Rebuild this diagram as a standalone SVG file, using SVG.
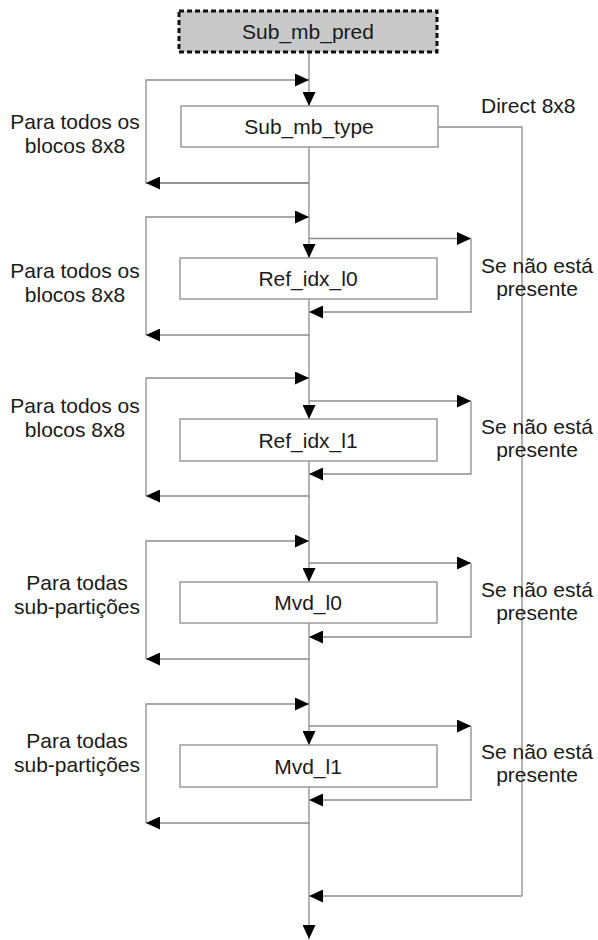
<svg xmlns="http://www.w3.org/2000/svg" width="598" height="940" viewBox="0 0 598 940">
<defs>
<marker id="ah" viewBox="0 0 14 13" refX="14" refY="6.5" markerWidth="14" markerHeight="13" markerUnits="userSpaceOnUse" orient="auto">
<path d="M0,0 L14,6.5 L0,13 z" fill="#000"/>
</marker>
<style>
.ln{fill:none;stroke:#8c8c8c;stroke-width:1.3}
.ar{marker-end:url(#ah)}
.box{fill:#fff;stroke:#8c8c8c;stroke-width:1.3}
.t{font-family:"Liberation Sans",Arial,sans-serif;font-size:21px;fill:#1a1a1a}
.c{text-anchor:middle}
</style>
</defs>
<rect width="598" height="940" fill="#fff"/>
<g id="connectors">
<path class="ln ar" d="M309,52 V106"/>
<path class="ln ar" d="M309,183 H146 V80 H309"/>
<path class="ln ar" d="M309,147 V183 H146"/>
<path class="ln" d="M438,127 H522 V896"/>
<path class="ln ar" d="M522,896 H309"/>
<path class="ln ar" d="M309,183 V258"/>
<path class="ln ar" d="M146,335 V217 H309"/>
<path class="ln ar" d="M309,238.5 H471"/>
<path class="ln ar" d="M471,238.5 V312 H309"/>
<path class="ln ar" d="M309,299 V335 H146"/>
<path class="ln ar" d="M309,335 V419"/>
<path class="ln ar" d="M146,496 V378 H309"/>
<path class="ln ar" d="M309,401 H471"/>
<path class="ln ar" d="M471,401 V474 H309"/>
<path class="ln ar" d="M309,461 V496 H146"/>
<path class="ln ar" d="M309,496 V582"/>
<path class="ln ar" d="M146,659 V541 H309"/>
<path class="ln ar" d="M309,563 H471"/>
<path class="ln ar" d="M471,563 V637 H309"/>
<path class="ln ar" d="M309,623 V659 H146"/>
<path class="ln ar" d="M309,659 V745"/>
<path class="ln ar" d="M146,823 V704 H309"/>
<path class="ln ar" d="M309,726 H471"/>
<path class="ln ar" d="M471,726 V800 H309"/>
<path class="ln ar" d="M309,787 V823 H146"/>
<path class="ln ar" d="M309,823 V939"/>
</g>
<g id="sub_mb_pred">
<rect x="179" y="11" width="258" height="41" fill="#c8c8c8" stroke="#111" stroke-width="3" stroke-dasharray="5,3"/>
<text class="t c" x="308" y="38.5">Sub_mb_pred</text>
</g>
<g id="sub_mb_type">
<rect class="box" x="181" y="106" width="257" height="41"/>
<text class="t c" x="309" y="134">Sub_mb_type</text>
</g>
<g id="ref_idx_l0">
<rect class="box" x="180" y="258" width="257" height="41"/>
<text class="t c" x="308" y="286">Ref_idx_l0</text>
</g>
<g id="ref_idx_l1">
<rect class="box" x="180" y="419" width="257" height="42"/>
<text class="t c" x="308" y="447.5">Ref_idx_l1</text>
</g>
<g id="mvd_l0">
<rect class="box" x="180" y="582" width="257" height="41"/>
<text class="t c" x="308" y="610">Mvd_l0</text>
</g>
<g id="mvd_l1">
<rect class="box" x="180" y="745" width="257" height="42"/>
<text class="t c" x="308" y="773.5">Mvd_l1</text>
</g>
<g id="labels">
<text class="t c" x="75" y="129">Para todos os</text>
<text class="t c" x="75" y="153">blocos 8x8</text>
<text class="t c" x="75" y="278">Para todos os</text>
<text class="t c" x="75" y="302">blocos 8x8</text>
<text class="t c" x="75" y="413">Para todos os</text>
<text class="t c" x="75" y="437">blocos 8x8</text>
<text class="t c" x="77" y="590">Para todas</text>
<text class="t c" x="77" y="614">sub-partições</text>
<text class="t c" x="77" y="748">Para todas</text>
<text class="t c" x="77" y="772">sub-partições</text>
<text class="t" x="481" y="113">Direct 8x8</text>
<text class="t c" x="537" y="273">Se não está</text>
<text class="t c" x="537" y="296">presente</text>
<text class="t c" x="537" y="433.5">Se não está</text>
<text class="t c" x="537" y="456.5">presente</text>
<text class="t c" x="537" y="597">Se não está</text>
<text class="t c" x="537" y="620">presente</text>
<text class="t c" x="537" y="759">Se não está</text>
<text class="t c" x="537" y="782">presente</text>
</g>
</svg>
